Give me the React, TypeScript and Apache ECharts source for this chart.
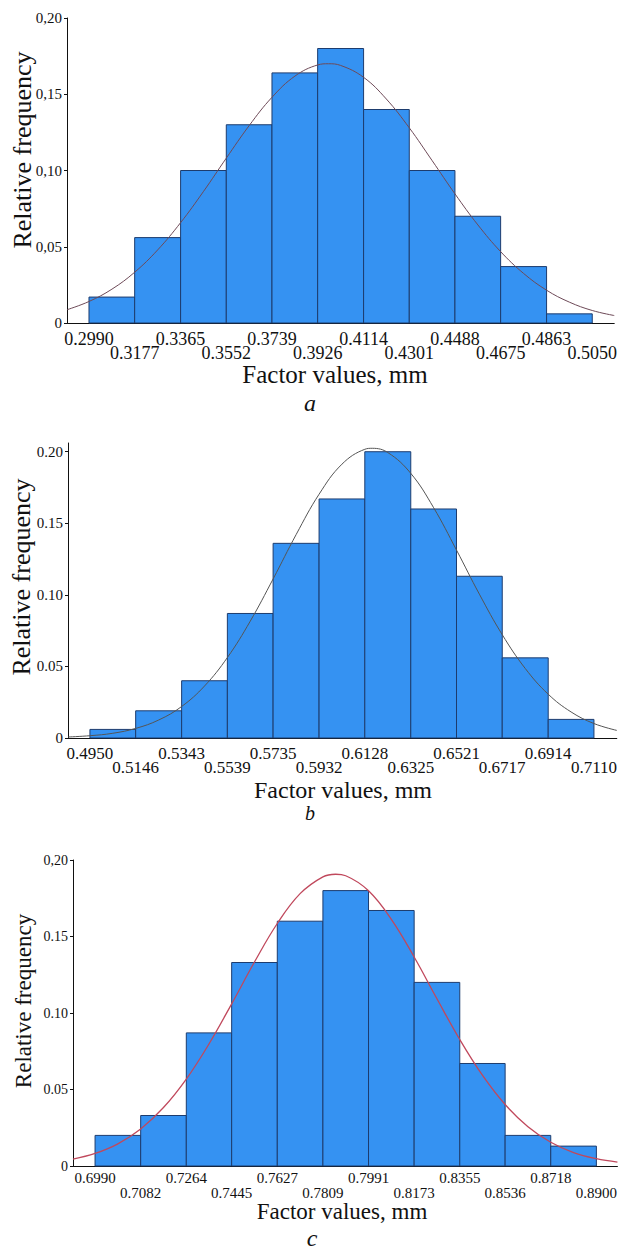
import React, { useEffect, useRef } from "react";
import * as echarts from "echarts";

const FONT = "'Liberation Serif', 'Times New Roman', Times, serif";

// ---- Chart a ----
const edgesA = [0.2990, 0.3177, 0.3365, 0.3552, 0.3739, 0.3926, 0.4114, 0.4301, 0.4488, 0.4675, 0.4863, 0.5050];
const tickLabelsA = ["0.2990", "0.3177", "0.3365", "0.3552", "0.3739", "0.3926", "0.4114", "0.4301", "0.4488", "0.4675", "0.4863", "0.5050"];
const freqA = [0.017, 0.056, 0.100, 0.130, 0.164, 0.180, 0.140, 0.100, 0.070, 0.037, 0.006];
const curveXA = [0.2900, 0.2990, 0.3084, 0.3177, 0.3271, 0.3365, 0.3458, 0.3552, 0.3646, 0.3739, 0.3833, 0.3926, 0.3970, 0.4020, 0.4114, 0.4207, 0.4301, 0.4395, 0.4488, 0.4582, 0.4675, 0.4769, 0.4863, 0.4956, 0.5050, 0.5140];
const curveYA = [0.0087, 0.0141, 0.0222, 0.0333, 0.0479, 0.0658, 0.0861, 0.1081, 0.1295, 0.1480, 0.1619, 0.1692, 0.1700, 0.1689, 0.1611, 0.1469, 0.1280, 0.1064, 0.0847, 0.0643, 0.0468, 0.0325, 0.0215, 0.0137, 0.0082, 0.0049];
const yTicksA = [0, 0.05, 0.10, 0.15, 0.20];
const yLabelsA = ["0", "0,05", "0,10", "0,15", "0,20"];

// ---- Chart b ----
const edgesB = [0.4950, 0.5146, 0.5343, 0.5539, 0.5735, 0.5932, 0.6128, 0.6325, 0.6521, 0.6717, 0.6914, 0.7110];
const tickLabelsB = ["0.4950", "0.5146", "0.5343", "0.5539", "0.5735", "0.5932", "0.6128", "0.6325", "0.6521", "0.6717", "0.6914", "0.7110"];
const freqB = [0.006, 0.019, 0.040, 0.087, 0.136, 0.167, 0.200, 0.160, 0.113, 0.056, 0.013];
const curveXB = [0.4856, 0.4950, 0.5048, 0.5146, 0.5245, 0.5343, 0.5441, 0.5539, 0.5637, 0.5735, 0.5834, 0.5932, 0.6030, 0.6128, 0.6160, 0.6227, 0.6325, 0.6423, 0.6521, 0.6619, 0.6717, 0.6816, 0.6914, 0.7012, 0.7110, 0.7208];
const curveYB = [0.0007, 0.0016, 0.0033, 0.0067, 0.0126, 0.0220, 0.0363, 0.0562, 0.0816, 0.1111, 0.1422, 0.1703, 0.1913, 0.2017, 0.2024, 0.1994, 0.1849, 0.1609, 0.1313, 0.1005, 0.0722, 0.0485, 0.0306, 0.0182, 0.0101, 0.0053];
const yTicksB = [0, 0.05, 0.10, 0.15, 0.20];
const yLabelsB = ["0", "0.05", "0.10", "0.15", "0.20"];

// ---- Chart c ----
const edgesC = [0.6900, 0.7082, 0.7264, 0.7445, 0.7627, 0.7809, 0.7991, 0.8173, 0.8355, 0.8536, 0.8718, 0.8900];
const tickLabelsC = ["0.6990", "0.7082", "0.7264", "0.7445", "0.7627", "0.7809", "0.7991", "0.8173", "0.8355", "0.8536", "0.8718", "0.8900"];
const freqC = [0.020, 0.033, 0.087, 0.133, 0.160, 0.180, 0.167, 0.120, 0.067, 0.020, 0.013];
const curveXC = [0.6812, 0.6900, 0.6991, 0.7082, 0.7173, 0.7264, 0.7355, 0.7445, 0.7536, 0.7627, 0.7718, 0.7809, 0.7860, 0.7900, 0.7991, 0.8082, 0.8173, 0.8264, 0.8355, 0.8446, 0.8536, 0.8627, 0.8718, 0.8809, 0.8900, 0.8984];
const curveYC = [0.0045, 0.0082, 0.0145, 0.0242, 0.0382, 0.0568, 0.0799, 0.1060, 0.1333, 0.1585, 0.1780, 0.1890, 0.1907, 0.1897, 0.1799, 0.1612, 0.1366, 0.1093, 0.0827, 0.0592, 0.0402, 0.0257, 0.0155, 0.0088, 0.0048, 0.0026];
const yTicksC = [0, 0.05, 0.10, 0.15, 0.20];
const yLabelsC = ["0", "0.05", "0.10", "0.15", "0,20"];

const axisTitleY = "Relative frequency";
const axisTitleX = "Factor values, mm";
const captions = ["a", "b", "c"];

const BAR_FILL = "#3592f2";
const BAR_STROKE = "#1d3c6e";

type Panel = {
  edges: number[];
  tickLabels: string[];
  freq: number[];
  curveX: number[];
  curveY: number[];
  yTicks: number[];
  yLabels: string[];
  grid: { left: number; top: number; width: number; height: number };
  xMin: number;
  xMax: number;
  yMax: number;
  xFont: number;
  row1Margin: number;
  row2Margin: number;
  yFont: number;
  curveColor: string;
  curveWidth: number;
};

const panels: Panel[] = [
  {
    edges: edgesA, tickLabels: tickLabelsA, freq: freqA, curveX: curveXA, curveY: curveYA,
    yTicks: yTicksA, yLabels: yLabelsA,
    grid: { left: 67, top: 18, width: 548, height: 305 },
    xMin: 0.2900, xMax: 0.5140, yMax: 0.20,
    xFont: 18, row1Margin: 7, row2Margin: 21, yFont: 15,
    curveColor: "#6e4a58", curveWidth: 1,
  },
  {
    edges: edgesB, tickLabels: tickLabelsB, freq: freqB, curveX: curveXB, curveY: curveYB,
    yTicks: yTicksB, yLabels: yLabelsB,
    grid: { left: 68, top: 443, width: 552, height: 295 },
    xMin: 0.4856, xMax: 0.7208, yMax: 0.2061,
    xFont: 17, row1Margin: 7, row2Margin: 21, yFont: 15,
    curveColor: "#555555", curveWidth: 1,
  },
  {
    edges: edgesC, tickLabels: tickLabelsC, freq: freqC, curveX: curveXC, curveY: curveYC,
    yTicks: yTicksC, yLabels: yLabelsC,
    grid: { left: 73, top: 860, width: 546, height: 306 },
    xMin: 0.6812, xMax: 0.8984, yMax: 0.20,
    xFont: 15, row1Margin: 4, row2Margin: 19, yFont: 14,
    curveColor: "#c0485c", curveWidth: 1.3,
  },
];

const titleYPos = [
  { x: 22, y: 150, size: 26 },
  { x: 21, y: 577, size: 26 },
  { x: 23, y: 1001, size: 23 },
];
const titleXPos = [
  { x: 335, y: 374, size: 25 },
  { x: 343, y: 790, size: 24 },
  { x: 342, y: 1211, size: 23 },
];
const captionPos = [
  { x: 310, y: 403, size: 24 },
  { x: 310, y: 813, size: 20 },
  { x: 312, y: 1238, size: 24 },
];

function buildOption() {
  const grid: any[] = [];
  const xAxis: any[] = [];
  const yAxis: any[] = [];
  const series: any[] = [];
  const graphic: any[] = [];

  panels.forEach((p, i) => {
    grid.push({ ...p.grid, containLabel: false });
    const evenVals = p.edges.filter((_, k) => k % 2 === 0);
    const oddVals = p.edges.filter((_, k) => k % 2 === 1);
    const fmt = (val: number) => {
      const k = p.edges.findIndex((e) => Math.abs(e - val) < 1e-7);
      return k < 0 ? "" : p.tickLabels[k];
    };
    [evenVals, oddVals].forEach((vals, row) => {
      xAxis.push({
        type: "value",
        gridIndex: i,
        position: "bottom",
        offset: 0,
        min: p.xMin,
        max: p.xMax,
        axisLine: { show: row === 0, onZero: false, lineStyle: { color: "#111", width: 1 } },
        axisTick: { show: false },
        splitLine: { show: false },
        axisLabel: {
          customValues: vals,
          showMinLabel: true,
          showMaxLabel: true,
          margin: row === 0 ? p.row1Margin : p.row2Margin,
          fontFamily: FONT,
          fontSize: p.xFont,
          color: "#111",
          hideOverlap: false,
          formatter: fmt,
        },
      });
    });
    yAxis.push({
      type: "value",
      gridIndex: i,
      min: 0,
      max: p.yMax,
      axisLine: { show: true, lineStyle: { color: "#111", width: 1 } },
      axisTick: { show: true, length: 3, customValues: p.yTicks, lineStyle: { color: "#111" } },
      splitLine: { show: false },
      axisLabel: {
        customValues: p.yTicks,
        showMinLabel: true,
        showMaxLabel: true,
        margin: 5,
        fontFamily: FONT,
        fontSize: p.yFont,
        color: "#111",
        formatter: (val: number) => {
          const k = p.yTicks.findIndex((e) => Math.abs(e - val) < 1e-7);
          return k < 0 ? "" : p.yLabels[k];
        },
      },
    });
    const barData = p.freq.map((f, k) => [p.edges[k], p.edges[k + 1], f]);
    series.push({
      type: "custom",
      xAxisIndex: 2 * i,
      yAxisIndex: i,
      clip: false,
      z: 2,
      encode: { x: [0, 1], y: 2 },
      data: barData,
      renderItem: (params: any, api: any) => {
        const x0 = api.value(0);
        const x1 = api.value(1);
        const y = api.value(2);
        const p0 = api.coord([x0, y]);
        const p1 = api.coord([x1, 0]);
        return {
          type: "rect",
          shape: { x: p0[0], y: p0[1], width: p1[0] - p0[0], height: p1[1] - p0[1] },
          style: { fill: BAR_FILL, stroke: BAR_STROKE, lineWidth: 1 },
        };
      },
    });
    series.push({
      type: "line",
      xAxisIndex: 2 * i,
      yAxisIndex: i,
      z: 5,
      smooth: 0.4,
      showSymbol: false,
      symbol: "none",
      clip: false,
      lineStyle: { color: p.curveColor, width: p.curveWidth },
      data: p.curveX.map((x, k) => [x, p.curveY[k]]),
    });

    graphic.push({
      type: "text",
      x: titleYPos[i].x,
      y: titleYPos[i].y,
      rotation: Math.PI / 2,
      style: {
        text: axisTitleY,
        fontFamily: FONT,
        fontSize: titleYPos[i].size,
        fill: "#111",
        align: "center",
        verticalAlign: "middle",
      },
    });
    graphic.push({
      type: "text",
      x: titleXPos[i].x,
      y: titleXPos[i].y,
      style: {
        text: axisTitleX,
        fontFamily: FONT,
        fontSize: titleXPos[i].size,
        fill: "#111",
        align: "center",
        verticalAlign: "middle",
      },
    });
    graphic.push({
      type: "text",
      x: captionPos[i].x,
      y: captionPos[i].y,
      style: {
        text: captions[i],
        fontFamily: FONT,
        fontStyle: "italic",
        fontSize: captionPos[i].size,
        fill: "#111",
        align: "center",
        verticalAlign: "middle",
      },
    });
  });

  return {
    animation: false,
    backgroundColor: "#ffffff",
    textStyle: { fontFamily: FONT },
    grid,
    xAxis,
    yAxis,
    series,
    graphic,
  };
}

export default function App() {
  const ref = useRef<HTMLDivElement>(null);
  useEffect(() => {
    if (!ref.current) return;
    const chart = echarts.init(ref.current, null, { renderer: "svg" });
    chart.setOption(buildOption() as any);
    return () => chart.dispose();
  }, []);
  return (
    <div
      ref={ref}
      style={{ position: "absolute", left: 0, top: 0, width: 620, height: 1254, background: "#fff" }}
    />
  );
}
